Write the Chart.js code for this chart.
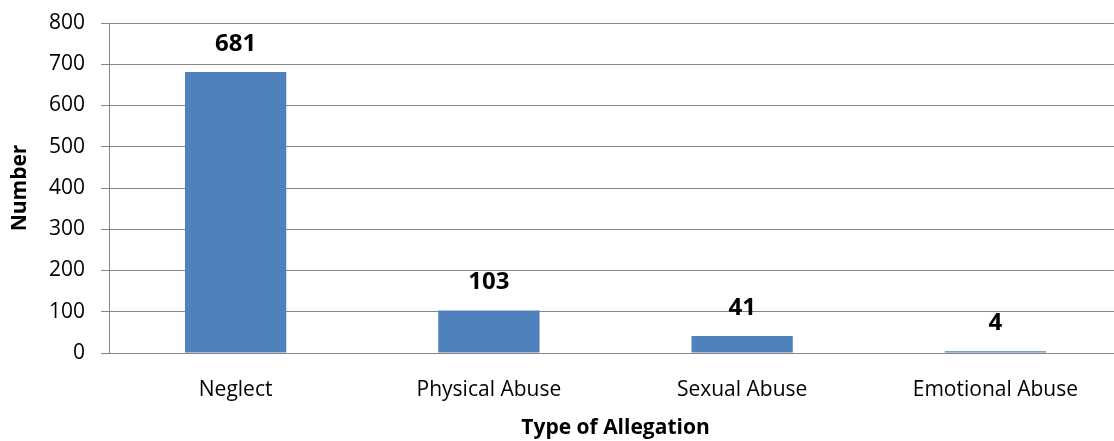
<!DOCTYPE html>
<html>
<head>
<meta charset="utf-8">
<script src="https://cdn.jsdelivr.net/npm/chart.js@4.4.1/dist/chart.umd.min.js"></script>
<style>
  html, body { margin: 0; padding: 0; background: #fff; overflow: hidden; }
  #wrap { width: 1122px; height: 441px; }
</style>
</head>
<body>
<div id="wrap"><canvas id="chart" width="1122" height="441"></canvas></div>
<script>
// Dados do gráfico
const categorias = ["Neglect", "Physical Abuse", "Sexual Abuse", "Emotional Abuse"];
const valores = [681, 103, 41, 4];
const yMax = 800;
const yPasso = 100;

const FONTE = "'Open Sans', sans-serif";
const CINZA = "#868686";

// Rótulos de valor em cima de cada barra
const rotulosPlugin = {
  id: "rotulos",
  afterDatasetsDraw(chart) {
    const ctx = chart.ctx;
    const meta = chart.getDatasetMeta(0);
    ctx.save();
    ctx.font = "bold 24px " + FONTE;
    ctx.fillStyle = "#000";
    ctx.textAlign = "center";
    ctx.textBaseline = "middle";
    meta.data.forEach((bar, i) => {
      ctx.fillText(String(valores[i]), bar.x, bar.y - 28);
    });
    ctx.restore();
  }
};

new Chart(document.getElementById("chart"), {
  type: "bar",
  data: {
    labels: categorias,
    datasets: [{
      label: "Number",
      data: valores,
      backgroundColor: "#4F81BD",
      borderWidth: 0,
      barPercentage: 0.4,
      categoryPercentage: 1
    }]
  },
  options: {
    responsive: false,
    animation: false,
    layout: { padding: { top: 23, left: 0, right: 0, bottom: 0 } },
    plugins: {
      legend: { display: false },
      tooltip: { enabled: false }
    },
    scales: {
      x: {
        grid: { display: false, drawTicks: false },
        border: { display: false },
        ticks: {
          color: "#000",
          font: { family: FONTE, size: 21 },
          padding: 24
        },
        title: {
          display: true,
          text: "Type of Allegation",
          color: "#000",
          font: { family: FONTE, size: 21, weight: "bold" },
          padding: { top: 0, bottom: 0 }
        },
        afterFit(scale) { scale.height = 88; }
      },
      y: {
        min: 0,
        max: yMax,
        grid: { color: CINZA, lineWidth: 1, tickLength: 8 },
        border: { display: true, color: CINZA, width: 1 },
        ticks: {
          stepSize: yPasso,
          color: "#000",
          font: { family: FONTE, size: 21 },
          padding: 16
        },
        title: {
          display: true,
          text: "Number",
          color: "#000",
          font: { family: FONTE, size: 21, weight: "bold" },
          padding: { top: 7, bottom: 0 }
        },
        afterFit(scale) {
          scale.width = 109;
          scale.paddingTop = 12;
          scale.paddingBottom = 0;
        }
      }
    }
  },
  plugins: [rotulosPlugin]
});
</script>
</body>
</html>
